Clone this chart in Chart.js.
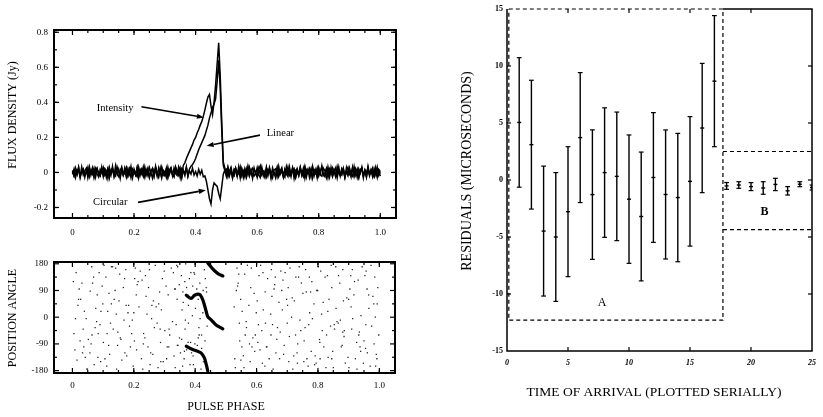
<!DOCTYPE html>
<html><head><meta charset="utf-8">
<script src="https://cdn.jsdelivr.net/npm/chart.js@4.4.1/dist/chart.umd.min.js"></script>
<style>
html,body{margin:0;padding:0;background:#fff;}
#wrap{position:relative;width:823px;height:417px;overflow:hidden;background:#fff;}
canvas{position:absolute;}
</style></head><body>
<div id="wrap">
<canvas id="flux" width="420" height="250" style="left:0;top:0;width:420px;height:250px"></canvas>
<canvas id="pa" width="420" height="167" style="left:0;top:250px;width:420px;height:167px"></canvas>
<canvas id="res" width="403" height="417" style="left:420px;top:0;width:403px;height:417px"></canvas>
</div>
<script>
// ---------------- DATA ----------------
// Pulse profile, sampled every PHASE_STEP in pulse phase (values in mJy)
const PHASE_STEP = 0.005;
const intensity_mJy = [
 12,-18,25,-8,30,-22,5,18,-27,14,-6,33,-15,20,-30,8,26,-12,-20,15,
 -25,22,10,-35,28,-5,17,-19,38,-10,-24,12,29,-16,6,-28,21,-9,34,-21,
 9,-14,27,-31,16,2,-23,31,-12,19,-26,7,24,-18,36,-7,-29,13,22,-15,
 4,-27,30,-11,18,-20,25,-6,-17,33,10,-22,
 40,55,80,100,120,140,160,185,200,225,245,270,290,320,356,395,430,445,380,330,400,500,620,740,550,280,60,25,
 -15,28,-20,11,-32,19,7,-24,34,-9,16,-28,22,-4,30,-19,12,-33,26,-8,
 -21,17,38,-13,5,-26,24,-17,29,-3,-30,14,21,-22,35,-11,8,-27,19,-6,
 31,-18,-9,25,-34,13,20,-16,28,-2,-23,32,-12,17,-29,9,26,-20,14,-31,
 23,-7,37,-14,-25,18,6,-28,29,-10,15,-22,33,-5,-18,24,11,-30,27,-13,
 4,-26,30,-16,21,-8,-33,16,25,-20,9,-27,34,-12,18,-3,-24,28,-15,13,-21
];
const linear_mJy = [
 -10,20,-28,15,6,-22,31,-14,9,24,-31,11,-5,27,-19,22,-9,-26,18,3,
 29,-17,-6,23,-30,14,25,-11,-21,33,7,-27,16,-13,28,-4,-20,26,10,-32,
 19,-8,-24,30,-15,21,4,-29,13,-18,27,-2,-33,17,9,-23,26,-12,31,-6,
 -19,24,-28,12,20,-10,-26,32,5,-16,23,-31,14,-7,28,-20,
 20,35,45,60,80,105,130,150,170,190,210,240,270,310,340,370,390,420,520,640,480,240,40,10,
 18,-25,9,30,-13,-21,26,-4,15,-32,22,-10,7,-27,33,-16,12,24,-20,-8,
 28,-14,-29,19,5,-23,31,-11,20,-26,13,-2,-31,25,-17,8,27,-22,16,-9,
 -24,32,-15,11,22,-28,3,-18,29,-12,24,-33,14,-5,21,-25,34,-13,-7,26,
 -20,10,29,-16,-3,23,-30,17,-11,27,8,-24,-14,31,-21,12,20,-27,5,-18,
 26,-9,-22,33,-14,18,-26,7,24,-31,15,-6,28,-19,10,-25,22,-12,30,-17,6
];
const circular_mJy = [
 5,-21,17,-12,26,-30,9,21,-16,-4,29,-23,13,-9,24,-27,18,-2,-19,31,
 -11,15,-28,22,7,-17,34,-24,10,-6,19,-32,25,-13,-1,27,-21,12,-29,20,
 3,-15,28,-25,14,-8,32,-18,-10,23,-28,6,18,-22,29,-3,-14,25,-31,11,
 -6,21,-26,15,29,-12,-20,26,-4,17,-30,22,8,-18,31,-23,10,-9,24,-15,
 5,-20,18,-10,12,-25,
 -20,-50,-100,-150,-180,-100,-60,-70,-80,-120,-150,-80,-10,
 14,-22,27,-9,19,-30,11,24,-17,-5,32,-20,8,-26,21,-13,29,-7,-24,16,3,
 -28,23,-11,30,-19,6,-25,18,12,-32,26,-4,-17,28,-22,9,20,-14,-27,33,
 -8,15,-23,27,-2,-29,19,-12,24,-18,7,31,-26,13,-6,22,-31,17,4,-20,
 28,-14,-21,25,10,-27,32,-9,16,-24,3,26,-30,19,-7,-16,23,-25,11,29,
 -12,-3,27,-22,14,-28,20,-5,31,-18,8,-26,22,-11,-1,25,-20,13,-29,17,6
];
const phaseTicks = [0, 0.2, 0.4, 0.6, 0.8, 1.0];
const phaseTickLabels = ['0', '0.2', '0.4', '0.6', '0.8', '1.0'];
const fluxTicks = [-0.2, 0, 0.2, 0.4, 0.6, 0.8];
const fluxTickLabels = ['-0.2', '0', '0.2', '0.4', '0.6', '0.8'];

// Position angle: off-pulse scatter (phase in thousandths, angle in degrees)
const paNoisePhase_milli = [
 12,35,58,71,93,118,131,152,177,195,214,236,251,273,296,312,338,355,372,391,
 405,421,433,531,548,566,583,604,622,641,659,677,693,714,732,751,768,787,805,823,
 841,858,876,894,913,931,948,966,983,995,8,27,49,66,84,103,124,139,161,183,
 202,221,243,262,284,301,322,344,361,383,398,416,538,557,575,596,613,632,650,668,
 686,705,723,741,760,778,796,814,832,850,867,885,904,922,940,957,975,990,18,42,
 63,79,97,112,136,148,170,189,208,229,248,267,290,307,329,349,366,378,410,427,
 544,561,579,599,617,636,654,673,690,709,727,746,764,782,801,819,836,854,871,889,
 908,926,944,961,979,998,5,22,45,61,87,106,127,144,166,186,205,225,240,258,
 279,293,317,333,352,369,385,401,419,436,527,552,570,588,608,627,646,663,682,700,
 718,737,755,773,791,809,828,845,862,881,898,917,935,953,970,987,15,31,52,76,
 90,109,121,143,158,174,198,217,232,255,270,287,305,326,341,359,376,393,412,430,
 534,549,563,592,611,629,648,666,684,703,721,739,758,776,794,812,831,848,866,883,
 901,919,937,956,973,992,25,57,81,115,133,168,193,211,246,276,299,335,364,381,
 407,425,439,542,585,619,657,698,734,770,807,843,879,910,950,985,39,69,101,154,
 335,348,360,372,380,392,404,415,426,437,342,356,365,377,388,399,410,421,432,378,
 20,47,74,99,127,156,181,209,238,264,288,315,343,368,394,540,567,594,621,647,
 675,701,728,754,780,806,833,859,886,912,939,965,993,3,33,83,113,141,171,200,
 227,253,281,309,331,357,386,413,559,581,606,634,661,688,716,744,772,799,826,853,
 881,907,933,960,988,10,37,64,92,119,147,175,203,231,259,286,314,340,367,396,
 553,577,602,628,652,679,707,733,762,789,817,845,873,900,927,955,982,529,536,545
];
const paNoiseAngle = [
 150,-40,88,-160,20,-95,170,55,-130,-10,120,-70,160,35,-150,75,-25,140,-110,5,
 95,-60,130,-170,60,-15,165,-85,25,-140,110,-50,150,0,-120,80,-165,45,-75,135,
 -30,170,-100,65,-5,125,-155,30,-90,100,-110,60,-175,115,-55,175,-20,90,-145,40,
 -80,155,10,-125,85,-45,165,-95,50,-160,145,-5,105,-130,40,-60,175,-100,70,-35,
 125,-150,55,-10,160,-115,90,-45,20,-170,140,-65,95,-140,5,155,-30,-125,40,-135,
 170,-15,105,-165,60,-50,130,-100,75,-175,100,-35,25,-140,150,-70,120,-20,60,-150,
 -20,145,-150,15,-45,130,-175,50,-95,165,-60,115,-140,-5,170,-100,60,-40,115,-155,
 35,-85,170,-120,70,-60,-55,95,-5,-90,150,-140,45,-175,100,-30,165,-140,70,-5,
 -170,130,-60,95,-120,180,-85,30,-175,100,35,-100,175,-70,140,-165,10,-120,90,-20,
 -175,135,-80,15,-130,155,-60,100,-15,160,-135,75,-50,140,-165,0,-145,115,-75,30,
 -25,135,-125,10,-75,160,-165,35,-55,-120,175,-85,105,-15,60,-165,75,-130,-35,160,
 90,-145,-60,80,-110,-20,160,-75,25,100,-130,170,-35,85,-155,10,140,-115,-20,55,
 -170,120,-100,-25,175,-140,-80,-120,75,20,-40,-10,-55,110,-100,-20,155,-170,-140,130,
 -95,15,-30,145,-100,-155,95,60,-90,-25,-140,175,-95,-40,-80,135,20,135,-85,145,
 95,110,85,100,65,105,75,115,90,85,-95,-75,-115,-85,-120,-90,-70,-105,-80,40,
 60,-175,-35,45,170,-70,15,-110,140,55,-150,-40,170,-10,-160,115,-35,-115,150,-60,
 -140,40,135,-150,120,-85,-135,30,-45,160,-115,75,45,120,-120,-135,-55,165,-120,15,
 125,-160,45,-100,-130,25,150,-60,-170,100,-25,-100,135,-125,65,-45,135,90,-170,-25,
 -50,140,-60,95,-165,-5,-100,-60,-150,80,-95,40,130,-90,40,-40,-100,175,-40,150,
 20,-90,55,85,-25,155,-65,-155,85,-160,50,-140,-10,60,-175,-105,45,-140,165,-80
];
// Position angle sweep (on-pulse)
const sweepMidPhase = [0.371,0.387,0.398,0.414,0.425,0.436,0.441,0.452,0.468,0.490];
const sweepMidAngle = [74,63,74,77,58,19,2,-9,-26,-39];
const sweepLowPhase = [0.371,0.392,0.408,0.419,0.430,0.436,0.441];
const sweepLowAngle = [-98,-109,-115,-120,-137,-159,-181];
const sweepTopPhase = [0.441,0.457,0.474,0.490];
const sweepTopAngle = [183,163,147,139];
const paTicks = [-180, -90, 0, 90, 180];
const paTickLabels = ['-180', '-90', '0', '90', '180'];

// Timing residuals (microseconds), plotted serially
const toaIndex = [1,2,3,4,5,6,7,8,9,10,11,12,13,14,15,16,17,18,19,20,21,22,23,24,25];
const residual = [5.05,3.1,-4.48,-5.0,-2.78,3.72,-1.28,0.65,0.32,-1.68,-3.2,0.22,-1.27,-1.54,-0.12,4.56,8.67,
                  -0.52,-0.44,-0.58,-0.7,-0.39,-0.95,-0.37,-0.66];
const residualErr = [5.68,5.65,5.7,5.65,5.7,5.7,5.68,5.68,5.64,5.63,5.65,5.69,5.66,5.63,5.68,5.67,5.75,
                  0.3,0.29,0.35,0.55,0.54,0.37,0.22,0.22];
const resXTicks = [0, 5, 10, 15, 20, 25];
const resYTicks = [-15, -10, -5, 0, 5, 10, 15];
const resYTickLabels = ['-15', '-10', '-5', '0', '5', '10', '15'];
// Group boxes A (first 17 TOAs) and B (last 8 TOAs)
const boxA = {x0: 0.15, x1: 17.7, y0: -12.3, y1: 15};
const boxB = {x0: 17.7, x1: 25, y0: -4.35, y1: 2.5};

// ---------------- RENDERING ----------------
const SERIF = '"Liberation Serif","DejaVu Serif",serif';
Chart.defaults.font.family = SERIF;
Chart.defaults.color = '#000';

const stepList = (a, b, s) => { const r = []; for (let v = a; v <= b + 1e-9; v += s) r.push(+v.toFixed(6)); return r; };

const framePlugin = {
  id: 'frame',
  afterDraw(chart, args, o) {
    const {ctx, chartArea: a} = chart;
    const xs = chart.scales.x, ys = chart.scales.y;
    ctx.save();
    ctx.strokeStyle = '#000';
    ctx.lineWidth = o.tickWidth || 1;
    const seg = (x1, y1, x2, y2) => { ctx.beginPath(); ctx.moveTo(x1, y1); ctx.lineTo(x2, y2); ctx.stroke(); };
    const xt = (list, len) => list.forEach(v => { const p = xs.getPixelForValue(v); if (p < a.left - 0.5 || p > a.right + 0.5) return; seg(p, a.bottom, p, a.bottom - len); seg(p, a.top, p, a.top + len); });
    const yt = (list, len) => list.forEach(v => { const p = ys.getPixelForValue(v); if (p < a.top - 0.5 || p > a.bottom + 0.5) return; seg(a.left, p, a.left + len, p); seg(a.right, p, a.right - len, p); });
    xt(o.xMajor, o.majorLen); yt(o.yMajor, o.majorLen);
    if (o.xMinor) xt(o.xMinor, o.minorLen);
    if (o.yMinor) yt(o.yMinor, o.minorLen);
    if (o.box) { ctx.lineWidth = o.frameWidth; ctx.strokeRect(a.left, a.top, a.width, a.height); }
    ctx.restore();
  }
};
const textPlugin = {
  id: 'texts',
  afterDraw(chart, args, o) {
    const ctx = chart.ctx;
    (o.items || []).forEach(t => {
      ctx.save();
      ctx.font = t.font; ctx.fillStyle = '#000';
      ctx.textAlign = t.align || 'center'; ctx.textBaseline = 'middle';
      let x = t.x, y = t.y;
      if (t.data) { x = chart.scales.x.getPixelForValue(t.x); y = chart.scales.y.getPixelForValue(t.y); }
      ctx.translate(x, y);
      if (t.rot) ctx.rotate(t.rot);
      ctx.fillText(t.text, 0, 0);
      ctx.restore();
    });
  }
};
const arrowPlugin = {
  id: 'arrows',
  afterDraw(chart, args, o) {
    const ctx = chart.ctx, xs = chart.scales.x, ys = chart.scales.y;
    (o.items || []).forEach(ar => {
      const x1 = xs.getPixelForValue(ar.from[0]), y1 = ys.getPixelForValue(ar.from[1]);
      const x2 = xs.getPixelForValue(ar.to[0]), y2 = ys.getPixelForValue(ar.to[1]);
      const ang = Math.atan2(y2 - y1, x2 - x1), L = 7, W = 2.6;
      ctx.save();
      ctx.strokeStyle = '#000'; ctx.fillStyle = '#000'; ctx.lineWidth = 1.6;
      ctx.beginPath(); ctx.moveTo(x1, y1); ctx.lineTo(x2 - L * Math.cos(ang), y2 - L * Math.sin(ang)); ctx.stroke();
      ctx.beginPath(); ctx.moveTo(x2, y2);
      ctx.lineTo(x2 - L * Math.cos(ang) + W * Math.sin(ang), y2 - L * Math.sin(ang) - W * Math.cos(ang));
      ctx.lineTo(x2 - L * Math.cos(ang) - W * Math.sin(ang), y2 - L * Math.sin(ang) + W * Math.cos(ang));
      ctx.closePath(); ctx.fill();
      ctx.restore();
    });
  }
};
const boxPlugin = {
  id: 'boxes',
  afterDraw(chart, args, o) {
    const ctx = chart.ctx, xs = chart.scales.x, ys = chart.scales.y;
    ctx.save(); ctx.strokeStyle = '#000';
    (o.paths || []).forEach(sg => {
      ctx.setLineDash(sg.dash || []); ctx.lineWidth = sg.w;
      ctx.beginPath();
      sg.pts.forEach((p, k) => { const X = xs.getPixelForValue(p[0]), Y = ys.getPixelForValue(p[1]); k ? ctx.lineTo(X, Y) : ctx.moveTo(X, Y); });
      ctx.stroke();
    });
    ctx.restore();
  }
};

const baseOpts = () => ({
  responsive: false, animation: false, events: [],
  plugins: { legend: { display: false }, tooltip: { enabled: false } }
});
const axis = (min, max, vals, labels, fit, pad, font) => ({
  type: 'linear', min, max,
  grid: { display: false, drawTicks: false, tickLength: 0 }, border: { display: false },
  afterBuildTicks: s => { s.ticks = vals.map(v => ({ value: v })); },
  afterFit: fit,
  ticks: { callback: (v, i) => labels[i], font, color: '#000', padding: pad, maxRotation: 0, minRotation: 0, autoSkip: false }
});

// ---- Panel 1: flux density profile ----
const profile = arr => arr.map((v, i) => ({ x: i * PHASE_STEP, y: v / 1000 }));
const o1 = baseOpts();
o1.layout = { padding: { left: 0, right: 24, top: 30, bottom: 0 } };
o1.scales = {
  x: axis(-0.06, 1.051, phaseTicks, phaseTickLabels, s => { s.height = 32; }, 9, { family: SERIF, size: 9 }),
  y: axis(-0.26, 0.813, fluxTicks, fluxTickLabels, s => { s.width = 54; }, 6, { family: SERIF, size: 9 })
};
o1.plugins.frame = { xMajor: phaseTicks, xMinor: stepList(0.05, 1.0, 0.05), yMajor: fluxTicks, yMinor: stepList(-0.2, 0.8, 0.1), majorLen: 5, minorLen: 3, tickWidth: 1.2, box: true, frameWidth: 2 };
o1.plugins.texts = { items: [
  { text: 'FLUX DENSITY (Jy)', x: 13, y: 115, rot: -Math.PI / 2, font: '12px ' + SERIF },
  { text: 'Intensity', data: true, x: 0.079, y: 0.367, align: 'left', font: '10.5px ' + SERIF },
  { text: 'Linear', data: true, x: 0.631, y: 0.223, align: 'left', font: '10.5px ' + SERIF },
  { text: 'Circular', data: true, x: 0.067, y: -0.168, align: 'left', font: '10.5px ' + SERIF }
]};
o1.plugins.arrows = { items: [
  { from: [0.224, 0.375], to: [0.427, 0.314] },
  { from: [0.609, 0.213], to: [0.436, 0.152] },
  { from: [0.213, -0.171], to: [0.433, -0.101] }
]};
const lineDs = d => ({ data: d, borderColor: '#000', borderWidth: 1.5, pointRadius: 0, tension: 0, fill: false });
new Chart(document.getElementById('flux'), {
  type: 'line',
  data: { datasets: [lineDs(profile(intensity_mJy)), lineDs(profile(linear_mJy)), lineDs(profile(circular_mJy))] },
  options: o1,
  plugins: [framePlugin, textPlugin, arrowPlugin]
});

// ---- Panel 2: position angle ----
const pairs = (xs, ys) => xs.map((x, i) => ({ x, y: ys[i] }));
const o2 = baseOpts();
o2.layout = { padding: { left: 0, right: 25, top: 12, bottom: 0 } };
o2.scales = {
  x: axis(-0.06, 1.051, phaseTicks, phaseTickLabels, s => { s.height = 44; }, 7, { family: SERIF, size: 9 }),
  y: axis(-188, 186, paTicks, paTickLabels, s => { s.width = 54; }, 6, { family: SERIF, size: 9 })
};
o2.plugins.frame = { xMajor: phaseTicks, xMinor: stepList(0.05, 1.0, 0.05), yMajor: paTicks, yMinor: [-135, -45, 45, 135], majorLen: 5, minorLen: 3, tickWidth: 1.2, box: true, frameWidth: 2 };
o2.plugins.texts = { items: [
  { text: 'POSITION ANGLE', x: 13, y: 68, rot: -Math.PI / 2, font: '12px ' + SERIF },
  { text: 'PULSE PHASE', x: 226, y: 157, font: '12px ' + SERIF }
]};
const sweepDs = d => ({ type: 'line', data: d, borderColor: '#000', borderWidth: 3.2, pointRadius: 0, tension: 0.3, borderCapStyle: 'round' });
new Chart(document.getElementById('pa'), {
  type: 'scatter',
  data: { datasets: [
    { data: pairs(paNoisePhase_milli.map(v => v / 1000), paNoiseAngle), pointStyle: 'rect', pointRadius: 0.9, backgroundColor: '#222', borderWidth: 0 },
    sweepDs(pairs(sweepMidPhase, sweepMidAngle)),
    sweepDs(pairs(sweepLowPhase, sweepLowAngle)),
    sweepDs(pairs(sweepTopPhase, sweepTopAngle))
  ]},
  options: o2,
  plugins: [framePlugin, textPlugin]
});

// ---- Panel 3: timing residuals ----
const barPts = [];
toaIndex.forEach((t, i) => {
  barPts.push({ x: t, y: residual[i] - residualErr[i] }, { x: t, y: residual[i] + residualErr[i] }, { x: t, y: null });
});
const capPts = [];
toaIndex.forEach((t, i) => { capPts.push({ x: t, y: residual[i] - residualErr[i] }, { x: t, y: residual[i] + residualErr[i] }); });
const o3 = baseOpts();
o3.layout = { padding: { left: 0, right: 5, top: 9, bottom: 0 } };
o3.scales = {
  x: axis(0, 25, resXTicks, resXTicks.map(String), s => { s.height = 66; }, 7, { family: SERIF, size: 8, style: 'italic', weight: 'bold' }),
  y: axis(-15, 15, resYTicks, resYTickLabels, s => { s.width = 87; }, 4, { family: SERIF, size: 8, weight: 'bold' })
};
o3.plugins.frame = { xMajor: [5, 10, 15, 20], yMajor: [-10, -5, 0, 5, 10], majorLen: 4, tickWidth: 1.2, box: false };
o3.plugins.boxes = { paths: [
  { w: 1.5, pts: [[boxA.x1, 15], [25, 15], [25, -15], [0, -15], [0, 15]] },
  { w: 1.2, dash: [4, 3], pts: [[boxA.x0, boxA.y1], [boxA.x1, boxA.y1], [boxA.x1, boxA.y0], [boxA.x0, boxA.y0], [boxA.x0, boxA.y1]] },
  { w: 1.2, dash: [4, 3], pts: [[boxB.x0, boxB.y1], [boxB.x1, boxB.y1]] },
  { w: 1.2, dash: [4, 3], pts: [[boxB.x0, boxB.y0], [boxB.x1, boxB.y0]] }
]};
o3.plugins.texts = { items: [
  { text: 'RESIDUALS (MICROSECONDS)', x: 47, y: 171, rot: -Math.PI / 2, font: '14px ' + SERIF },
  { text: 'TIME OF ARRIVAL (PLOTTED SERIALLY)', x: 234, y: 392, font: '13.5px ' + SERIF },
  { text: 'A', data: true, x: 7.8, y: -10.8, font: '12px ' + SERIF },
  { text: 'B', data: true, x: 21.1, y: -2.8, font: 'bold 12px ' + SERIF }
]};
new Chart(document.getElementById('res'), {
  type: 'scatter',
  data: { datasets: [
    { type: 'line', data: barPts, borderColor: '#000', borderWidth: 1.4, pointRadius: 0, spanGaps: false },
    { data: capPts, pointStyle: 'line', pointRadius: 2.4, borderColor: '#000', borderWidth: 1.2 },
    { data: pairs(toaIndex, residual), pointStyle: 'line', pointRadius: 2, borderColor: '#000', borderWidth: 1.4 }
  ]},
  options: o3,
  plugins: [framePlugin, textPlugin, boxPlugin]
});
</script>
</body></html>
